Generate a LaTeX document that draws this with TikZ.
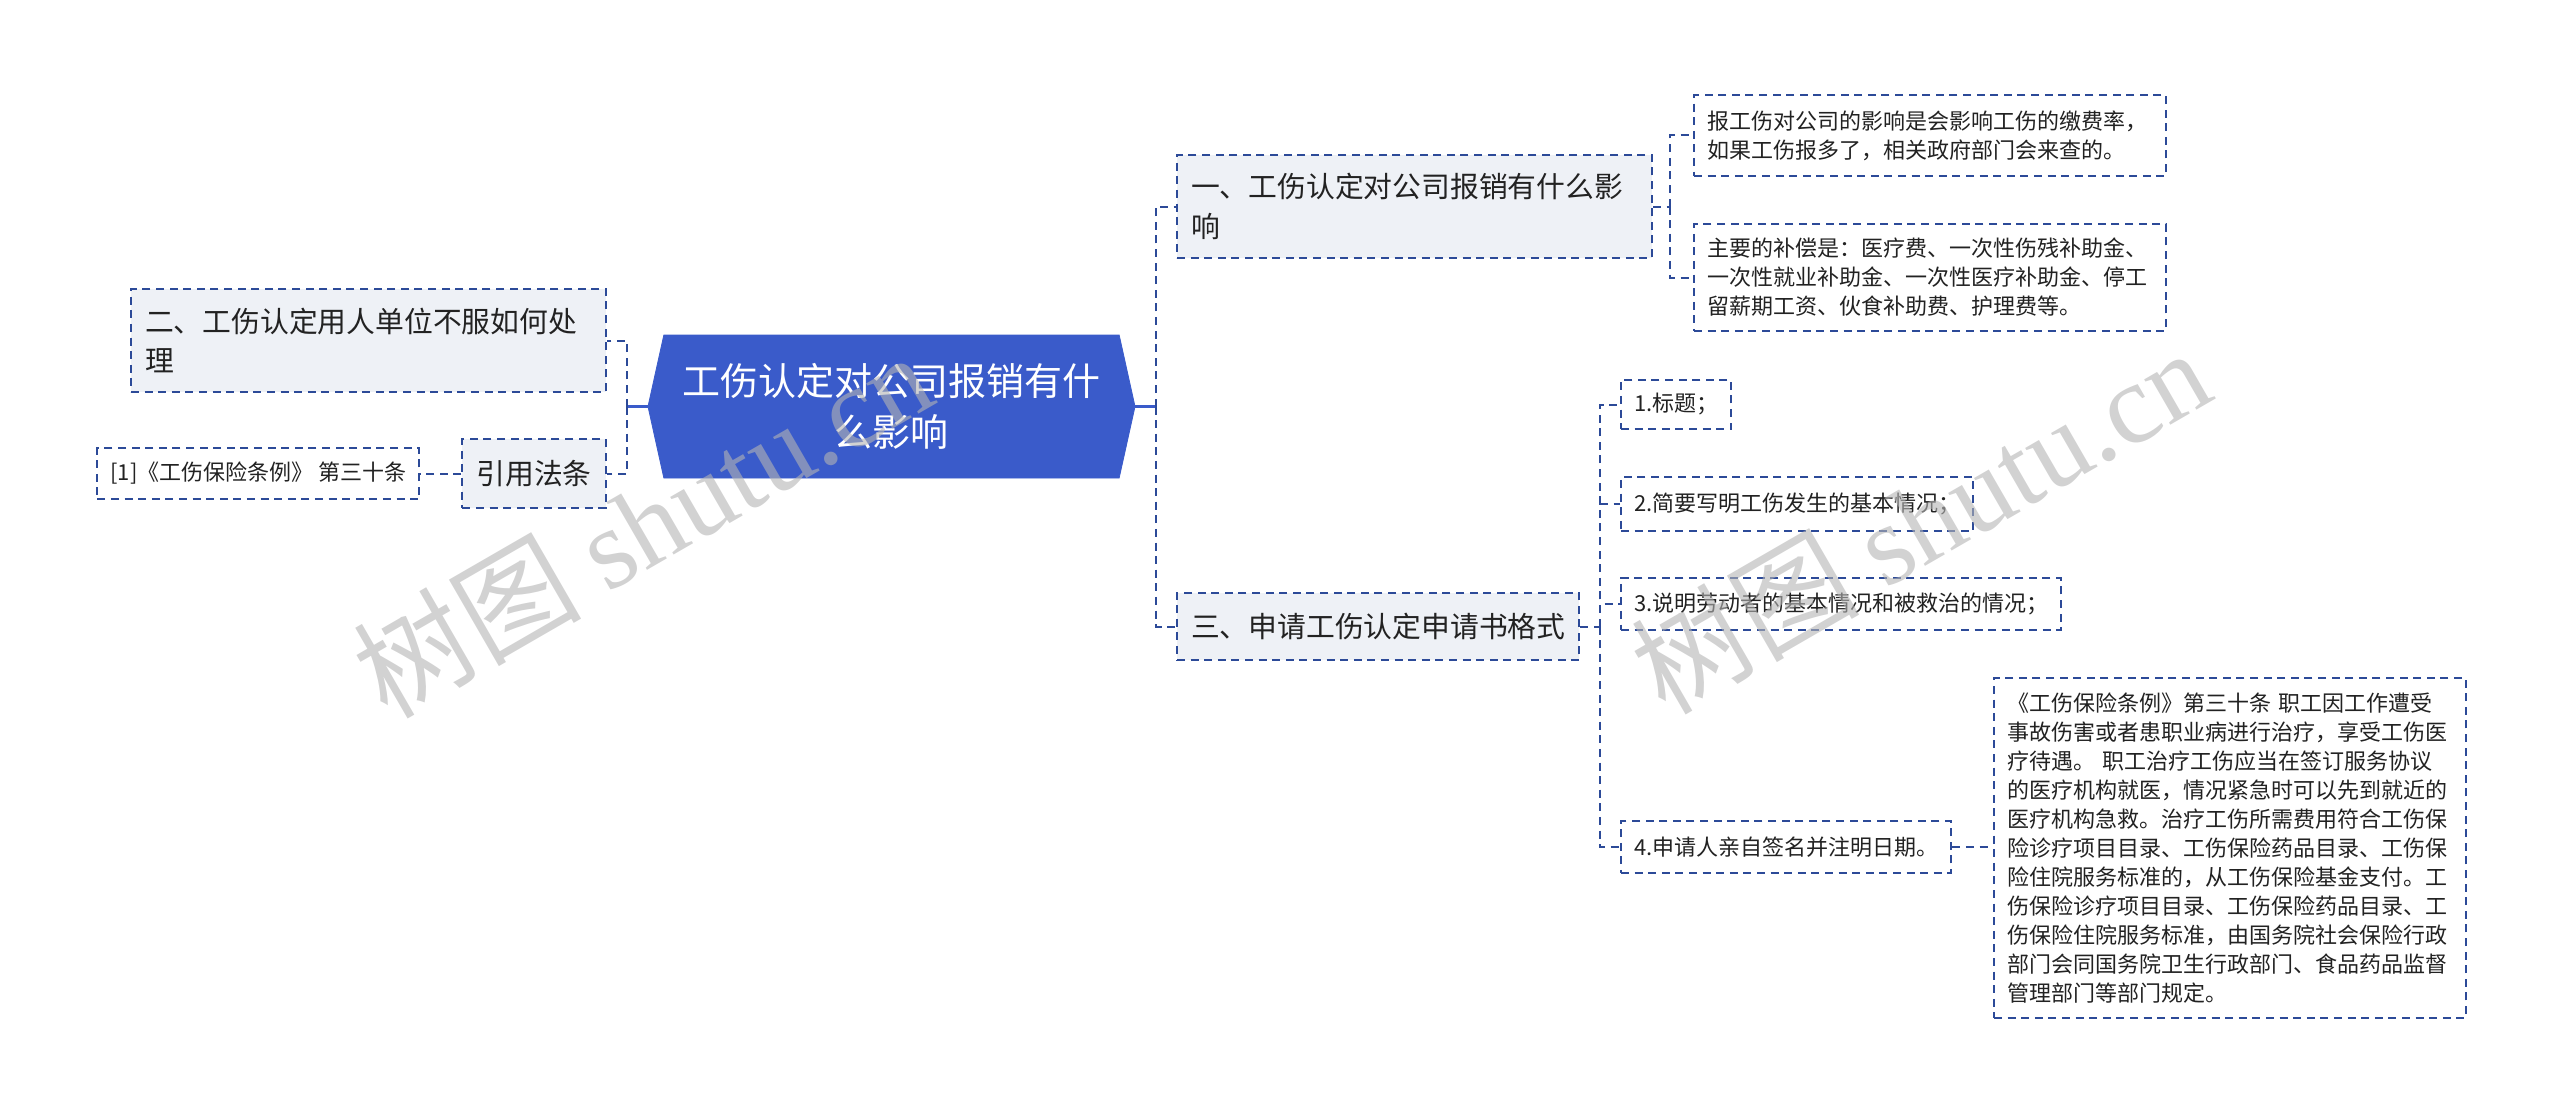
\documentclass[tikz,border=0pt]{standalone}
\usepackage{fontspec}
\setmainfont{Noto Sans CJK SC}
\newfontfamily\wmserif{Liberation Serif}
\usetikzlibrary{shapes.symbols, positioning, calc}
\definecolor{rootblue}{HTML}{3A5BCA}
\definecolor{linkblue}{HTML}{2C4A98}
\definecolor{topicgray}{HTML}{EEF1F6}
\definecolor{inktext}{HTML}{222222}
\definecolor{markgray}{HTML}{B4B4B4}

\begin{document}
\begin{tikzpicture}[x=1pt, y=-1pt,
    rootnode/.style={signal, signal to=west and east, signal pointer angle=155, fill=rootblue, draw=rootblue, text=white, font=\fontsize{19}{25.3}\selectfont, align=center, minimum width=243.5pt, minimum height=71.5pt, inner sep=0pt},
    dashline/.style={draw=linkblue, line width=1pt, dash pattern=on 4pt off 2.8pt},
    topicbox/.style={dashline, fill=topicgray, text=inktext, font=\fontsize{14.4}{19.6}\selectfont, align=left, inner xsep=7pt, inner ysep=0pt},
    leafbox/.style={dashline, fill=white, text=inktext, font=\fontsize{11}{14.5}\selectfont, align=left, inner xsep=6.5pt, inner ysep=0pt},
    link/.style={dashline},
    stub/.style={draw=rootblue, line width=1.3pt},
    watermark/.style={rotate=30, text=markgray, opacity=0.6, font=\fontsize{57}{57}\selectfont}
]
\useasboundingbox (0,0) rectangle (1280,556.5);

% centre
\node[rootnode] (root) at (445.75,203.25) {工伤认定对公司报销有什\\么影响};

% left side
\node[topicbox, text width=223.5pt, minimum height=51.5pt] (two) at (184.25,170.25) {二、工伤认定用人单位不服如何处\\理};
\node[topicbox, minimum height=34.5pt] (cite) at (267,236.75) {引用法条};
\node[leafbox, minimum height=25.5pt, left=20.5pt of cite] (ref) {[1]《工伤保险条例》 第三十条};

% right side
\node[topicbox, text width=223.5pt, minimum height=51.5pt, anchor=west] (one) at (588,103.25) {一、工伤认定对公司报销有什么影\\响};
\node[topicbox, minimum height=33.5pt, anchor=west] (three) at (588,313.25) {三、申请工伤认定申请书格式};

\node[leafbox, text width=223pt, minimum height=40.5pt, anchor=west] (effect) at (846.5,67.75) {报工伤对公司的影响是会影响工伤的缴费率，\\如果工伤报多了，相关政府部门会来查的。};
\node[leafbox, text width=223pt, minimum height=53.5pt, anchor=west] (comp) at (846.5,138.75) {主要的补偿是：医疗费、一次性伤残补助金、\\一次性就业补助金、一次性医疗补助金、停工\\留薪期工资、伙食补助费、护理费等。};

\node[leafbox, minimum height=24.5pt, anchor=west] (i1) at (810,202.25) {1.标题；};
\node[leafbox, minimum height=27pt, anchor=west] (i2) at (810,252) {2.简要写明工伤发生的基本情况；};
\node[leafbox, minimum height=26pt, anchor=west] (i3) at (810,302) {3.说明劳动者的基本情况和被救治的情况；};
\node[leafbox, minimum height=26pt, anchor=west] (i4) at (810,423.5) {4.申请人亲自签名并注明日期。};

\node[leafbox, text width=223pt, minimum height=170pt, anchor=west] (rule) at (996.5,424) {《工伤保险条例》第三十条 职工因工作遭受\\事故伤害或者患职业病进行治疗，享受工伤医\\疗待遇。 职工治疗工伤应当在签订服务协议\\的医疗机构就医，情况紧急时可以先到就近的\\医疗机构急救。治疗工伤所需费用符合工伤保\\险诊疗项目目录、工伤保险药品目录、工伤保\\险住院服务标准的，从工伤保险基金支付。工\\伤保险诊疗项目目录、工伤保险药品目录、工\\伤保险住院服务标准，由国务院社会保险行政\\部门会同国务院卫生行政部门、食品药品监督\\管理部门等部门规定。};

% connectors
\coordinate (lbus) at (313.5,203.25);
\coordinate (rbus) at (578,203.25);
\coordinate (onebus) at (835,103.25);
\coordinate (threebus) at (800,313.25);

\draw[stub] (root.west) -- (lbus);
\draw[link] (lbus) |- (two.east);
\draw[link] (lbus) |- (cite.east);
\draw[link] (cite.west) -- (ref.east);

\draw[stub] (root.east) -- (rbus);
\draw[link] (rbus) |- (one.west);
\draw[link] (rbus) |- (three.west);

\draw[link] (one.east) -- (onebus);
\draw[link] (onebus) |- (effect.west);
\draw[link] (onebus) |- (comp.west);

\draw[link] (three.east) -- (threebus);
\foreach \n in {i1,i2,i3,i4}
  \draw[link] (threebus) |- (\n.west);
\draw[link] (i4.east) -- (i4.east -| rule.west);

% watermarks
\node[watermark] (wm1) at (321,262) {树图 {\wmserif shutu.cn}};
\node[watermark] (wm2) at (960,260) {树图 {\wmserif shutu.cn}};
\end{tikzpicture}
\end{document}
